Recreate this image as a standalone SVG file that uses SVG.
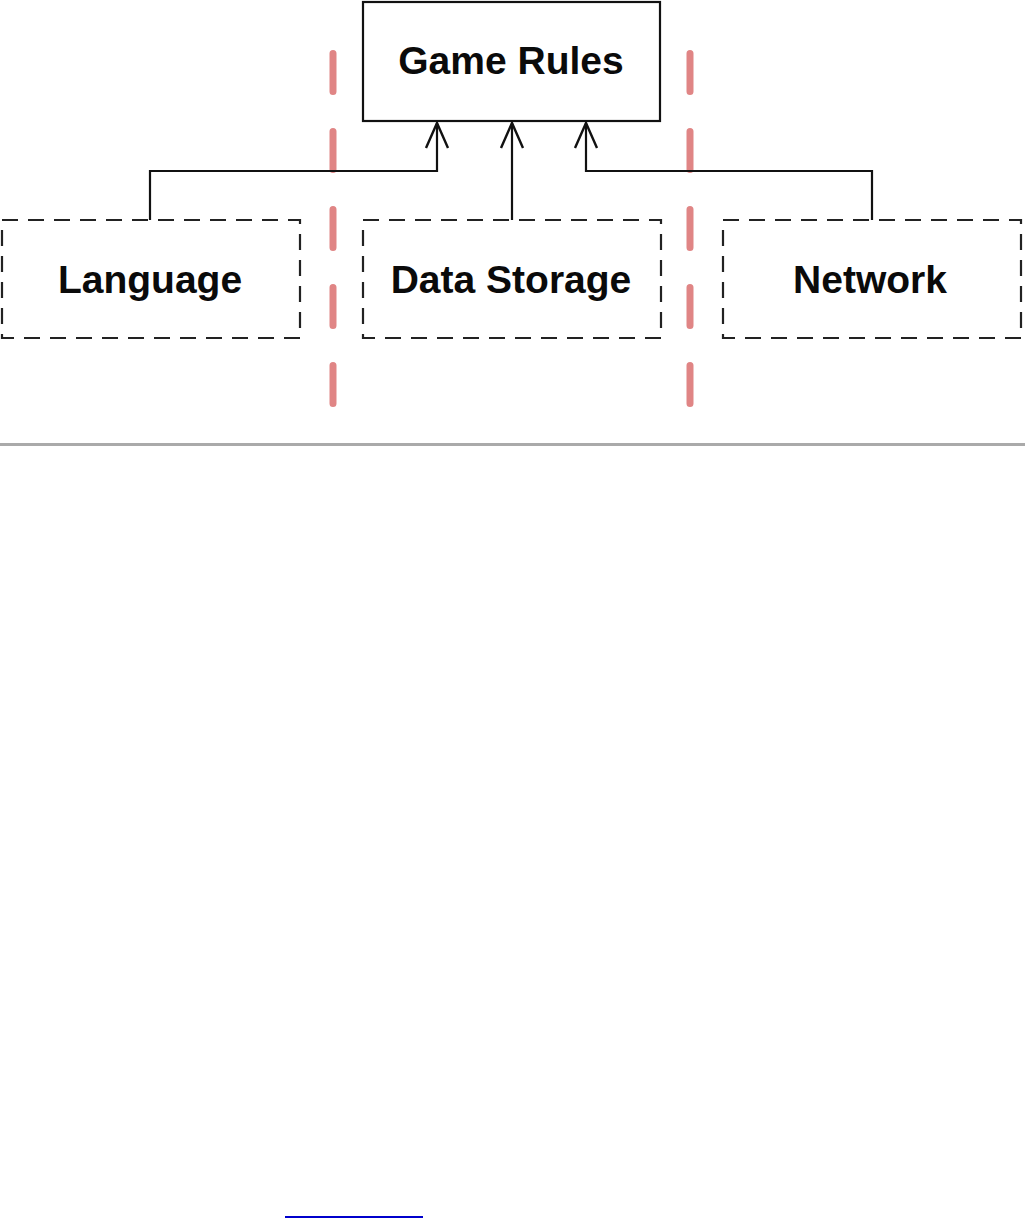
<svg xmlns="http://www.w3.org/2000/svg" width="1025" height="1218" viewBox="0 0 1025 1218">
<style>
.solid{fill:#fff;stroke:#111;stroke-width:2.2}
.dashed{fill:#fff;stroke:#222;stroke-width:2.2;stroke-dasharray:16 10}
.lbl{font-family:"Liberation Sans",Arial,sans-serif;font-weight:bold;font-size:39px;fill:#0a0a0a;text-anchor:middle}
.conn{fill:none;stroke:#111;stroke-width:2.2}
.head{fill:none;stroke:#111;stroke-width:2.4;stroke-linejoin:miter}
.sep{stroke:#e08585;stroke-width:7;stroke-linecap:round;stroke-dasharray:38 40}
</style>
<rect width="1025" height="1218" fill="#fff"/>
<g id="separators">
<line class="sep" x1="333" y1="53.5" x2="333" y2="410"/>
<line class="sep" x1="690" y1="53.5" x2="690" y2="410"/>
</g>
<g id="game-rules">
<rect class="solid" x="363" y="2" width="297" height="119"/>
<text class="lbl" x="511" y="74">Game Rules</text>
</g>
<g id="language">
<rect class="dashed" x="2" y="220" width="298" height="118"/>
<text class="lbl" x="150" y="293">Language</text>
</g>
<g id="data-storage">
<rect class="dashed" x="363" y="220" width="298" height="118"/>
<text class="lbl" x="511" y="293">Data Storage</text>
</g>
<g id="network">
<rect class="dashed" x="723" y="220" width="298" height="118"/>
<text class="lbl" x="870" y="293">Network</text>
</g>
<g id="connectors">
<polyline class="conn" points="150,220 150,171 437,171 437,123"/>
<polyline class="head" points="426,148 437,123 448,148"/>
<polyline class="conn" points="512,220 512,123"/>
<polyline class="head" points="501,148 512,123 523,148"/>
<polyline class="conn" points="872,220 872,171 586,171 586,123"/>
<polyline class="head" points="575,148 586,123 597,148"/>
</g>
<line x1="0" y1="444.5" x2="1025" y2="444.5" stroke="#aaaaaa" stroke-width="3"/>
<line x1="285" y1="1217" x2="423" y2="1217" stroke="#0000cc" stroke-width="2"/>
</svg>
